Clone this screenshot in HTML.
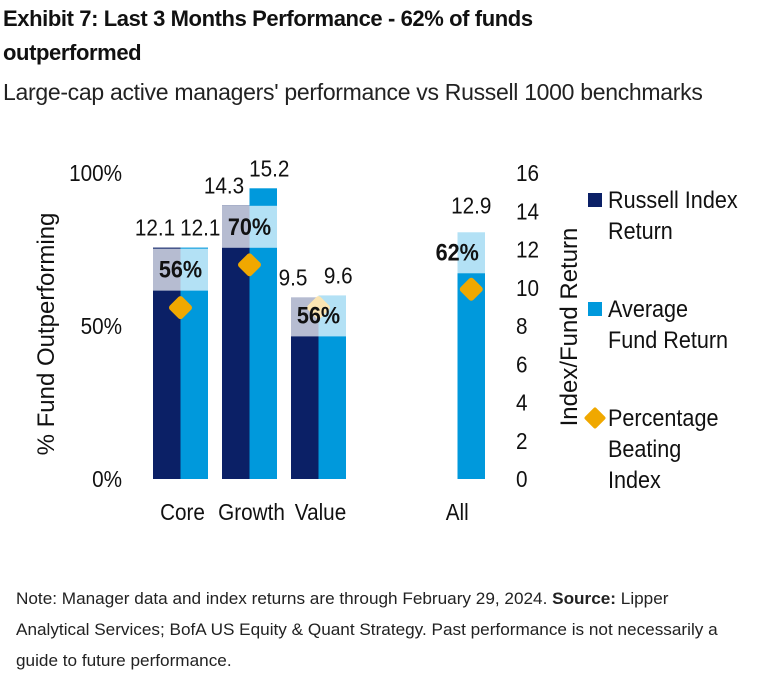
<!DOCTYPE html>
<html><head><meta charset="utf-8"><style>
body{margin:0;background:#fff;width:760px;height:691px;overflow:hidden;font-family:"Liberation Sans",sans-serif;}
.t{position:absolute;left:3px;color:#111;}
</style></head><body>
<div class="t" style="top:2px;font-weight:bold;font-size:22px;line-height:34px;width:640px;letter-spacing:-0.4px">Exhibit 7: Last 3 Months Performance - 62% of funds outperformed</div>
<div class="t" style="top:79px;font-size:23px;color:#222;letter-spacing:-0.3px;white-space:nowrap">Large-cap active managers' performance vs Russell 1000 benchmarks</div>
<div class="t" style="left:16px;top:584px;font-size:16.5px;line-height:31px;color:#222;width:820px;transform:scaleX(1.04);transform-origin:0 0">Note: Manager data and index returns are through February 29, 2024. <b>Source:</b> Lipper<br>Analytical Services; BofA US Equity &amp; Quant Strategy. Past performance is not necessarily a<br>guide to future performance.</div>
<svg id="c" width="760" height="691" style="position:absolute;left:0;top:0" font-family="Liberation Sans, sans-serif"></svg>
<script>
const categories=["Core","Growth","Value","All"];
const russell=[12.1,14.3,9.5,null];
const fund=[12.1,15.2,9.6,12.9];
const pct=[56,70,56,62];
const leftTicks=["0%","50%","100%"];
const rightTicks=[0,2,4,6,8,10,12,14,16];
const NS="http://www.w3.org/2000/svg",svg=document.getElementById('c');
const y0=479,h=306;
const yR=v=>y0-v/16*h, yL=p=>y0-p/100*h;
const catX=[153,222,291,430];const bw=27.5;
function mk(t,a,p){const e=document.createElementNS(NS,t);for(const k in a)e.setAttribute(k,a[k]);(p||svg).appendChild(e);return e;}
function tx(s,x,y,sz,anc,extra,p,rot,sx){const tr=`translate(${x},${y})`+(rot?` rotate(${rot})`:'')+` scale(${sx||0.9},1)`;
  const e=mk('text',Object.assign({x:0,y:0,transform:tr,'font-size':sz,'text-anchor':anc||'middle',fill:'#111'},extra||{}),p);e.textContent=s;return e;}
leftTicks.forEach((s,i)=>{const e=tx(s,122,yL(i*50)+8,23,'end');});
rightTicks.forEach(v=>{const e=tx(String(v),516,yR(v)+8,23,'start');});
let e=tx('% Fund Outperforming',54,334,24,'middle',{},null,-90,1.0);

e=tx('Index/Fund Return',577,327,24,'middle',{},null,-90,1.0);

categories.forEach((c,i)=>{
  const x=catX[i];
  if(russell[i]!=null){const b=mk('rect',{x:x,y:yR(russell[i]),width:bw,height:y0-yR(russell[i]),fill:'#0b2066'});
    
    const l=tx(russell[i].toFixed(1),x+2,yR(russell[i])-12,23);}
  const fx=x+bw;
  const b=mk('rect',{x:fx,y:yR(fund[i]),width:bw,height:y0-yR(fund[i]),fill:'#0099dc'});
  
  const solo=russell[i]==null;
  const l=tx(fund[i].toFixed(1),solo?fx+bw/2:fx+bw/2+6,yR(fund[i])-(solo?19:12),23);
  const cx=solo?fx+bw/2:x+bw, dy=yL(pct[i]);
  const d=mk('rect',{x:cx-9,y:dy-9,width:18,height:18,rx:3,fill:'#f0a800',transform:`rotate(45 ${cx} ${dy})`});
  
  const cy=Math.max(dy-38,yR(fund[i])+20);
  const bx=solo?fx:x, bwid=solo?bw:bw*2;
  const ov=mk('rect',{x:bx,y:cy-21,width:bwid,height:42,fill:'#fff',opacity:0.7});
  
  const pl=tx(pct[i]+'%',solo?cx-14:cx,cy+8,24,'middle',{'font-weight':'bold'});
  
  const cl=tx(c,solo?cx-14:x+bw+2,520,23);
});
const lg=[['#0b2066',['Russell Index','Return'],200,'sq'],['#0099dc',['Average','Fund Return'],309,'sq'],['#f0a800',['Percentage','Beating','Index'],418,'dia']];
lg.forEach(([col,lines,y,t])=>{
  const g=mk('g',{});
  if(t=='sq')mk('rect',{x:588,y:y-7,width:14,height:14,fill:col},g);
  else mk('rect',{x:587,y:y-8,width:16,height:16,rx:2,fill:col,transform:`rotate(45 595 ${y})`},g);
  lines.forEach((s,k)=>{tx(s,608,y+8+k*31,24,'start',{},g);});
});
</script>
</body></html>
